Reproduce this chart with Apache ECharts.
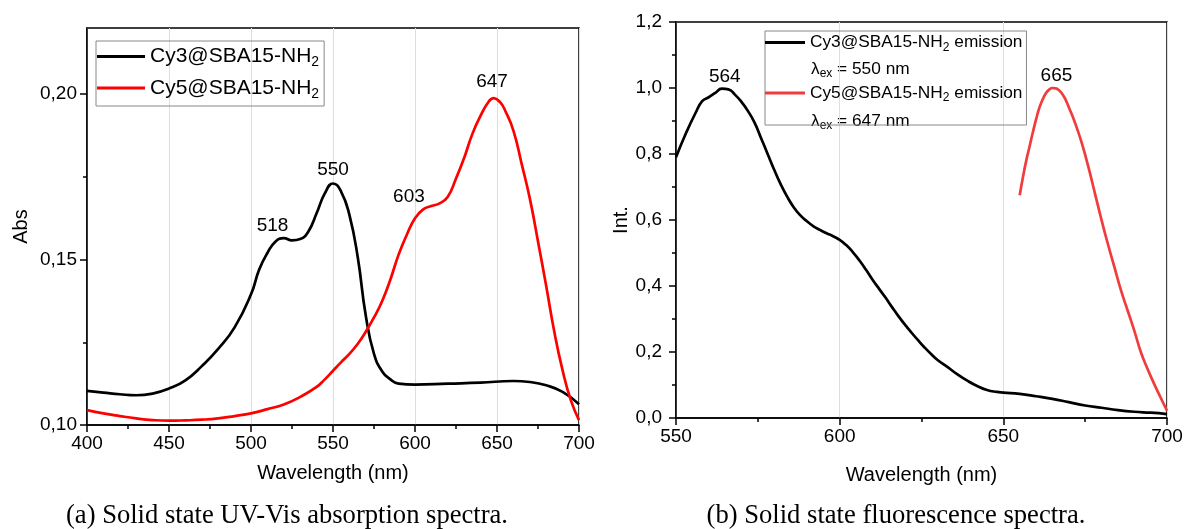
<!DOCTYPE html>
<html><head><meta charset="utf-8">
<script src="https://cdn.jsdelivr.net/npm/echarts@6/dist/echarts.min.js"></script>
<style>html,body{margin:0;padding:0;background:#fff}#c{width:1186px;height:529px}</style>
</head><body><div id="c"></div>
<script>
// ---- (a) absorption ----
const absCy3X = [400,410,420,430,440,450,460,470,480,490,500,505,510,515,520,525,530,535,540,545,550,555,560,565,570,575,580,585,590,600,620,640,660,670,680,690,700];
const absCy3Y = [0.1103,0.1098,0.1093,0.1090,0.1095,0.1110,0.1135,0.1178,0.1230,0.1295,0.1395,0.1470,0.1520,0.1555,0.1565,0.1558,0.1562,0.1585,0.1640,0.1700,0.1730,0.1705,0.1635,0.1510,0.1330,0.1215,0.1162,0.1138,0.1125,0.1122,0.1125,0.1128,0.1133,0.1130,0.1120,0.1100,0.1063];
const absCy5X = [400,410,420,430,440,450,460,470,480,490,500,510,520,530,540,545,550,555,560,565,570,575,580,585,590,595,600,605,610,615,620,625,630,635,640,645,648,652,655,660,665,670,675,680,685,690,695,700];
const absCy5Y = [0.1045,0.1035,0.1027,0.1020,0.1015,0.1013,0.1014,0.1016,0.1020,0.1027,0.1035,0.1048,0.1062,0.1085,0.1115,0.1138,0.1164,0.1190,0.1215,0.1245,0.1282,0.1325,0.1375,0.1440,0.1515,0.1575,0.1625,0.1652,0.1662,0.1670,0.1690,0.1745,0.1808,0.1880,0.1935,0.1978,0.1988,0.1975,0.1950,0.1890,0.1790,0.1685,0.1555,0.1420,0.1280,0.1165,0.1075,0.1015];
const absTicksY = [0.10,0.15,0.20];
const absMinorY = [0.125,0.175];
const absPeaksCy3 = [518,550];
const absPeaksCy5 = [603,647];

// ---- (b) fluorescence ----
const emCy3X = [550,553,556,558,560,562,564,566,568,570,572,574,576,578,580,582,584,586,588,590,592,594,596,598,600,602,604,606,608,610,612,614,616,618,620,622,624,626,628,630,633,636,639,642,645,648,650,655,660,665,670,675,680,685,690,695,700];
const emCy3Y = [0.790,0.862,0.925,0.960,0.972,0.985,0.998,0.996,0.980,0.958,0.930,0.895,0.848,0.800,0.752,0.708,0.670,0.638,0.614,0.596,0.581,0.570,0.560,0.551,0.540,0.524,0.503,0.478,0.450,0.420,0.392,0.365,0.336,0.308,0.282,0.258,0.235,0.213,0.193,0.175,0.154,0.132,0.113,0.097,0.085,0.079,0.077,0.073,0.066,0.058,0.048,0.038,0.031,0.024,0.019,0.016,0.012];
const emCy5X = [655,656,657,658,659,660,661,662,663,664,665,666,667,668,669,670,672,674,676,678,680,682,684,686,688,690,692,694,696,698,700];
const emCy5Y = [0.675,0.730,0.780,0.822,0.865,0.905,0.940,0.965,0.984,0.995,1.000,0.999,0.993,0.982,0.965,0.942,0.892,0.832,0.760,0.680,0.600,0.525,0.455,0.385,0.325,0.265,0.200,0.150,0.105,0.063,0.022];
const emPeaksCy3 = [564];
const emPeaksCy5 = [665];

const FF = 'Liberation Sans, Arial, sans-serif';
const zip = (xs, ys) => xs.map((x, i) => [x, ys[i]]);
const yAt = (xs, ys, x) => { let b = 0; xs.forEach((v, i) => { if (Math.abs(v - x) < Math.abs(xs[b] - x)) b = i; }); return ys[b]; };
const peakMarks = (xs, ys, peaks, offsets) => peaks.map((p, i) => ({ name: String(p), coord: [p, yAt(xs, ys, p)], label: { offset: offsets[i] } }));
const markCfg = (data) => ({
  silent: true, symbol: 'circle', symbolSize: 1, itemStyle: { color: 'rgba(0,0,0,0)' },
  label: { show: true, position: 'inside', formatter: '{b}', fontSize: 19, color: '#000', fontFamily: FF },
  data: data
});
const fmtLegend = (name) => '{n|' + name.replace('NH2', 'NH}{s|2}{n|') + '}';

const axisLineStyle = { color: '#000', width: 1.5 };
function xAx(grid, min, max, gap) {
  return {
    gridIndex: grid, type: 'value', min: min, max: max, interval: 50,
    axisLine: { show: true, onZero: false, lineStyle: axisLineStyle },
    axisTick: { show: true, length: 7, lineStyle: axisLineStyle },
    minorTick: { show: true, splitNumber: 2, length: 4, lineStyle: axisLineStyle },
    axisLabel: { fontSize: 19, color: '#000', margin: 9, fontFamily: FF },
    splitLine: { show: true, lineStyle: { color: '#dedede', width: 1 } },
    name: 'Wavelength (nm)', nameLocation: 'middle', nameGap: gap,
    nameTextStyle: { fontSize: 20, color: '#000', fontFamily: FF }
  };
}
const lineSeries = (name, xi, yi, xs, ys, color, marks) => ({
  type: 'line', name: name, xAxisIndex: xi, yAxisIndex: yi, data: zip(xs, ys),
  showSymbol: false, symbol: 'none', smooth: 0.5,
  lineStyle: { color: color, width: 2.7 }, itemStyle: { color: color },
  markPoint: markCfg(marks)
});
const lambdaRich = { n: { fontSize: 17.3, lineHeight: 22, fill: '#000', fontFamily: FF }, s: { fontSize: 12, lineHeight: 12, verticalAlign: 'bottom', fill: '#000', fontFamily: FF } };

const chart = echarts.init(document.getElementById('c'), null, { renderer: 'canvas' });
chart.setOption({
  backgroundColor: '#fff',
  animation: false,
  grid: [
    { left: 87, top: 28, width: 492, height: 397, show: true, borderColor: '#000', borderWidth: 1.5, backgroundColor: 'transparent' },
    { left: 676, top: 22, width: 491, height: 396, show: true, borderColor: '#000', borderWidth: 1.5, backgroundColor: 'transparent' }
  ],
  xAxis: [xAx(0, 400, 700, 38), xAx(1, 550, 700, 47)],
  yAxis: [
    {
      gridIndex: 0, type: 'value', min: 0.10, max: 0.22, interval: 0.05, position: 'left',
      axisLine: { show: true, onZero: false, lineStyle: axisLineStyle },
      axisTick: { show: true, length: 7, customValues: absTicksY, lineStyle: axisLineStyle },
      axisLabel: { show: true, customValues: absTicksY, fontSize: 19, color: '#000', margin: 10, fontFamily: FF,
        formatter: v => v.toFixed(2).replace('.', ',') },
      splitLine: { show: false },
      name: 'Abs', nameLocation: 'middle', nameGap: 56,
      nameTextStyle: { fontSize: 20, color: '#000', fontFamily: FF }
    },
    {
      gridIndex: 0, type: 'value', min: 0.10, max: 0.22, position: 'left', offset: 0,
      axisLine: { show: false },
      axisTick: { show: true, length: 4, customValues: absMinorY, lineStyle: axisLineStyle },
      axisLabel: { show: false }, splitLine: { show: false }
    },
    {
      gridIndex: 1, type: 'value', min: 0, max: 1.2, interval: 0.2, position: 'left',
      axisLine: { show: true, onZero: false, lineStyle: axisLineStyle },
      axisTick: { show: true, length: 7, lineStyle: axisLineStyle },
      minorTick: { show: true, splitNumber: 2, length: 4, lineStyle: axisLineStyle },
      axisLabel: { show: true, fontSize: 19, color: '#000', margin: 14, fontFamily: FF,
        formatter: v => v.toFixed(1).replace('.', ',') },
      splitLine: { show: false },
      name: 'Int.', nameLocation: 'middle', nameGap: 45,
      nameTextStyle: { fontSize: 20, color: '#000', fontFamily: FF }
    }
  ],
  legend: [
    {
      left: 96, top: 41, orient: 'vertical',
      data: ['Cy3@SBA15-NH2', 'Cy5@SBA15-NH2'],
      icon: 'rect', itemWidth: 48, itemHeight: 3, itemGap: 8,
      padding: [5, 5, 5, 1], borderColor: '#888', borderWidth: 1,
      formatter: fmtLegend,
      textStyle: { color: '#000', fontFamily: FF, fontSize: 21,
        rich: { n: { fontSize: 21, lineHeight: 26, color: '#000', fontFamily: FF },
                s: { fontSize: 14, lineHeight: 14, verticalAlign: 'bottom', color: '#000', fontFamily: FF } } }
    },
    {
      left: 765, top: 31, orient: 'vertical',
      data: ['Cy3@SBA15-NH2 emission', 'Cy5@SBA15-NH2 emission'],
      icon: 'rect', itemWidth: 40, itemHeight: 3, itemGap: 31,
      padding: [3, 4, 21, 0], borderColor: '#888', borderWidth: 1,
      formatter: fmtLegend,
      textStyle: { color: '#000', fontFamily: FF, fontSize: 17.3,
        rich: { n: { fontSize: 17.3, lineHeight: 22, color: '#000', fontFamily: FF },
                s: { fontSize: 12, lineHeight: 12, verticalAlign: 'bottom', color: '#000', fontFamily: FF } } }
    }
  ],
  graphic: [
    { type: 'text', x: 811, y: 69, silent: true,
      style: { text: '{n|λ}{s|ex}{n| = 550 nm}', align: 'left', verticalAlign: 'middle', rich: lambdaRich } },
    { type: 'text', x: 811, y: 121, silent: true,
      style: { text: '{n|λ}{s|ex}{n| = 647 nm}', align: 'left', verticalAlign: 'middle', rich: lambdaRich } },
    { type: 'text', x: 287, y: 516, silent: true,
      style: { text: '(a) Solid state UV-Vis absorption spectra.', align: 'center', verticalAlign: 'middle',
        fontSize: 26.6, fontFamily: 'Liberation Serif, Times New Roman, serif', fill: '#000' } },
    { type: 'text', x: 896, y: 516, silent: true,
      style: { text: '(b) Solid state fluorescence spectra.', align: 'center', verticalAlign: 'middle',
        fontSize: 26.6, fontFamily: 'Liberation Serif, Times New Roman, serif', fill: '#000' } }
  ],
  series: [
    lineSeries('Cy3@SBA15-NH2', 0, 0, absCy3X, absCy3Y, '#000',
      peakMarks(absCy3X, absCy3Y, absPeaksCy3, [[-8, -12], [0, -14]])),
    lineSeries('Cy5@SBA15-NH2', 0, 0, absCy5X, absCy5Y, '#ff0000',
      peakMarks(absCy5X, absCy5Y, absPeaksCy5, [[-11, -13], [0, -16]])),
    lineSeries('Cy3@SBA15-NH2 emission', 1, 2, emCy3X, emCy3Y, '#000',
      peakMarks(emCy3X, emCy3Y, emPeaksCy3, [[3, -12]])),
    lineSeries('Cy5@SBA15-NH2 emission', 1, 2, emCy5X, emCy5Y, '#f03c3c',
      peakMarks(emCy5X, emCy5Y, emPeaksCy5, [[4, -12]]))
  ]
});
</script>
</body></html>
